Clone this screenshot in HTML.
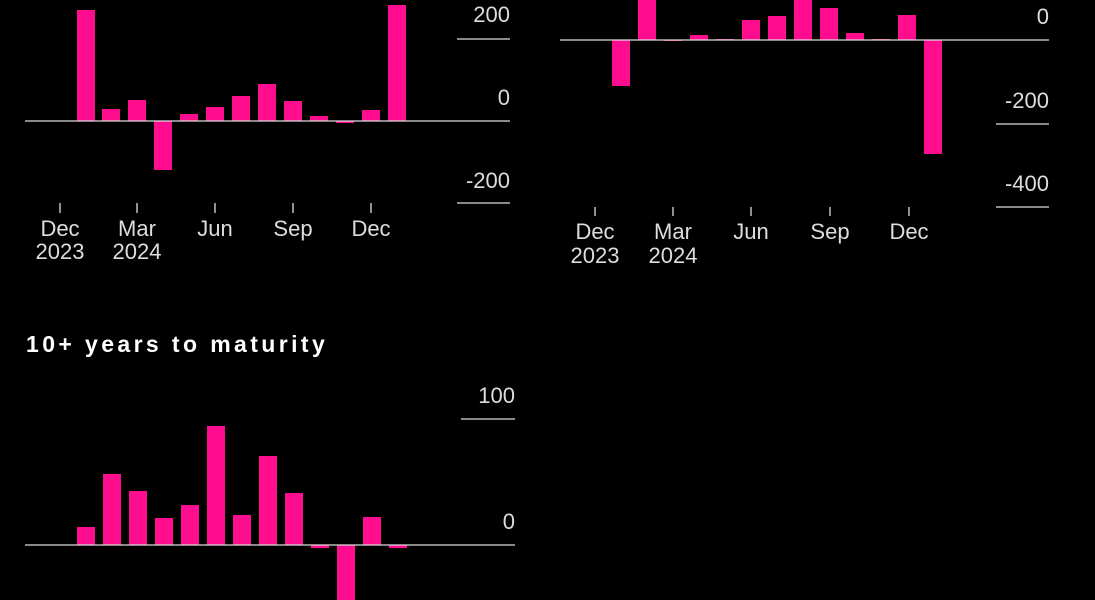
<!DOCTYPE html>
<html><head><style>
html,body{margin:0;padding:0;background:#000;width:1095px;height:600px;overflow:hidden}
svg text{font-family:"Liberation Sans",sans-serif;fill:#ddd;font-size:22px}
</style></head><body>
<svg width="1095" height="600" xmlns="http://www.w3.org/2000/svg">
<g fill="#ff0d8f">
<rect x="77" y="10" width="18" height="111"/>
<rect x="102" y="109" width="18" height="12"/>
<rect x="128" y="100" width="18" height="21"/>
<rect x="154" y="121" width="18" height="49"/>
<rect x="180" y="114" width="18" height="7"/>
<rect x="206" y="107" width="18" height="14"/>
<rect x="232" y="96" width="18" height="25"/>
<rect x="258" y="84" width="18" height="37"/>
<rect x="284" y="101" width="18" height="20"/>
<rect x="310" y="116" width="18" height="5"/>
<rect x="336" y="121" width="18" height="2"/>
<rect x="362" y="110" width="18" height="11"/>
<rect x="388" y="5" width="18" height="116"/>
<rect x="612" y="40" width="18" height="46"/>
<rect x="638" y="0" width="18" height="40"/>
<rect x="664" y="40" width="18" height="1"/>
<rect x="690" y="35" width="18" height="5"/>
<rect x="716" y="39" width="18" height="1"/>
<rect x="742" y="20" width="18" height="20"/>
<rect x="768" y="16" width="18" height="24"/>
<rect x="794" y="0" width="18" height="40"/>
<rect x="820" y="8" width="18" height="32"/>
<rect x="846" y="33" width="18" height="7"/>
<rect x="872" y="39" width="18" height="1"/>
<rect x="898" y="15" width="18" height="25"/>
<rect x="924" y="40" width="18" height="114"/>
<rect x="77" y="527" width="18" height="18"/>
<rect x="103" y="474" width="18" height="71"/>
<rect x="129" y="491" width="18" height="54"/>
<rect x="155" y="518" width="18" height="27"/>
<rect x="181" y="505" width="18" height="40"/>
<rect x="207" y="426" width="18" height="119"/>
<rect x="233" y="515" width="18" height="30"/>
<rect x="259" y="456" width="18" height="89"/>
<rect x="285" y="493" width="18" height="52"/>
<rect x="311" y="545" width="18" height="3"/>
<rect x="337" y="545" width="18" height="55"/>
<rect x="363" y="517" width="18" height="28"/>
<rect x="389" y="545" width="18" height="3"/>
</g>
<g stroke="#ddd" stroke-width="1.3">
<line x1="25" y1="121" x2="510" y2="121"/>
<line x1="457" y1="39" x2="510" y2="39"/>
<line x1="457" y1="203" x2="510" y2="203"/>
<line x1="60" y1="203" x2="60" y2="213"/><line x1="137" y1="203" x2="137" y2="213"/><line x1="215" y1="203" x2="215" y2="213"/><line x1="293" y1="203" x2="293" y2="213"/><line x1="371" y1="203" x2="371" y2="213"/>
<line x1="560" y1="40" x2="1049" y2="40"/>
<line x1="996" y1="124" x2="1049" y2="124"/>
<line x1="996" y1="207" x2="1049" y2="207"/>
<line x1="595" y1="207" x2="595" y2="216"/><line x1="673" y1="207" x2="673" y2="216"/><line x1="751" y1="207" x2="751" y2="216"/><line x1="830" y1="207" x2="830" y2="216"/><line x1="909" y1="207" x2="909" y2="216"/>
<line x1="25" y1="545" x2="515" y2="545"/>
<line x1="461" y1="419" x2="515" y2="419"/>
</g>
<g text-anchor="end">
<text x="510" y="22">200</text><text x="510" y="105">0</text><text x="510" y="188">-200</text>
<text x="1049" y="24">0</text><text x="1049" y="108">-200</text><text x="1049" y="191">-400</text>
<text x="515" y="403">100</text><text x="515" y="529">0</text>
</g>
<g text-anchor="middle">
<text x="60" y="236">Dec</text><text x="60" y="259">2023</text>
<text x="137" y="236">Mar</text><text x="137" y="259">2024</text>
<text x="215" y="236">Jun</text><text x="293" y="236">Sep</text><text x="371" y="236">Dec</text>
<text x="595" y="239">Dec</text><text x="595" y="263">2023</text>
<text x="673" y="239">Mar</text><text x="673" y="263">2024</text>
<text x="751" y="239">Jun</text><text x="830" y="239">Sep</text><text x="909" y="239">Dec</text>
</g>
<text x="26" y="352" style="font-weight:bold;fill:#fff;font-size:23px;letter-spacing:3.4px">10+ years to maturity</text>
</svg>
</body></html>
